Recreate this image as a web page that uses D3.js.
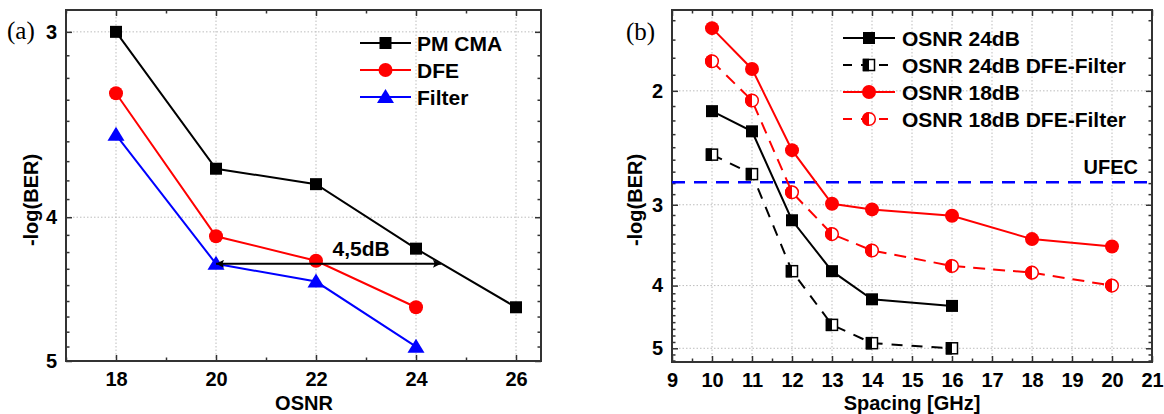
<!DOCTYPE html>
<html>
<head>
<meta charset="utf-8">
<script src="https://cdn.jsdelivr.net/npm/d3@7"></script>
<style>
    body { margin: 0; background: #fff; }
    svg { display: block; }
    text { font-family: "Liberation Sans", Arial, sans-serif; font-weight: bold; fill: #000; }
    .panel-tag { font-family: "Liberation Serif", "Times New Roman", serif; font-weight: normal; }
</style>
</head>
<body>
<script>
// panel (a): BER vs OSNR
const osnr = [18, 20, 22, 24, 26];
const pmCma = [3.0, 3.71, 3.80, 4.20, 4.60];
const dfe = [3.30, 4.12, 4.28, 4.60];
const filterVals = [3.52, 4.30, 4.42, 4.89];
const osnrTicks = [18, 20, 22, 24, 26];
const osnrMinor = [17, 19, 21, 23, 25];
const berTicksA = [3, 4, 5];
const arrowSpan = [20, 24.5];
const arrowLevel = 4.3;

// panel (b): BER vs spacing
const spacing24 = [10, 11, 12, 13, 14, 16];
const osnr24 = [2.15, 2.31, 3.17, 3.80, 4.20, 4.30];
const osnr24Dfe = [2.51, 2.69, 3.80, 4.60, 4.91, 5.00];
const spacing18 = [10, 11, 12, 13, 14, 16, 18, 20];
const osnr18 = [1.60, 1.85, 2.47, 2.99, 3.05, 3.12, 3.39, 3.48];
const osnr18Dfe = [1.80, 2.07, 2.87, 3.33, 3.53, 3.73, 3.82, 4.00];
const spacingTicks = d3.range(9, 22);
const spacingMinor = d3.range(9.5, 21, 1);
const berTicksB = [2, 3, 4, 5];
const ufec = 2.77;

const width = 1164, height = 414;
const svg = d3.select("body").append("svg").attr("width", width).attr("height", height);

// Origin style minor ticks: 8 between each pair of majors
function minorLog(lo, hi) {
    const out = [];
    for (let n = Math.floor(lo); n < hi; n++) {
        for (let k = 1; k < 9; k++) {
            const v = n + k / 9;
            if (v > lo && v < hi) out.push(v);
        }
    }
    return out;
}

function drawFrame(g, x, y, xMajor, xMinor, yMajor, yMinor) {
    const [x0, x1] = x.range();
    const [y0, y1] = y.range();

    // dotted grid
    g.append("g").selectAll("line").data(xMajor).join("line")
        .attr("x1", d => x(d)).attr("x2", d => x(d))
        .attr("y1", y0).attr("y2", y1)
        .attr("stroke", "#bdbdbd").attr("stroke-width", 1).attr("stroke-dasharray", "1.5,2");
    g.append("g").selectAll("line").data(yMajor).join("line")
        .attr("x1", x0).attr("x2", x1)
        .attr("y1", d => y(d)).attr("y2", d => y(d))
        .attr("stroke", "#bdbdbd").attr("stroke-width", 1).attr("stroke-dasharray", "1.5,2");

    const fmt = d3.format("d");
    const style = a => {
        a.select(".domain").remove();
        a.selectAll(".tick line").attr("stroke", "#333").attr("stroke-width", 1.5);
        a.selectAll("text").attr("font-size", 20);
    };

    g.append("g").attr("transform", `translate(0,${y1})`)
        .call(d3.axisBottom(x).tickValues(xMajor).tickSize(-6).tickPadding(11).tickFormat(fmt)).call(style);
    g.append("g").attr("transform", `translate(0,${y1})`)
        .call(d3.axisBottom(x).tickValues(xMinor).tickSize(-3.5).tickFormat("")).call(style);
    g.append("g").attr("transform", `translate(0,${y0})`)
        .call(d3.axisTop(x).tickValues(xMajor).tickSize(-6).tickFormat("")).call(style);
    g.append("g").attr("transform", `translate(0,${y0})`)
        .call(d3.axisTop(x).tickValues(xMinor).tickSize(-3.5).tickFormat("")).call(style);

    g.append("g").attr("transform", `translate(${x0},0)`)
        .call(d3.axisLeft(y).tickValues(yMajor).tickSize(-6).tickPadding(9).tickFormat(fmt)).call(style);
    g.append("g").attr("transform", `translate(${x0},0)`)
        .call(d3.axisLeft(y).tickValues(yMinor).tickSize(-3.5).tickFormat("")).call(style);
    g.append("g").attr("transform", `translate(${x1},0)`)
        .call(d3.axisRight(y).tickValues(yMajor).tickSize(-6).tickFormat("")).call(style);
    g.append("g").attr("transform", `translate(${x1},0)`)
        .call(d3.axisRight(y).tickValues(yMinor).tickSize(-3.5).tickFormat("")).call(style);

    g.append("rect")
        .attr("x", x0).attr("y", y0).attr("width", x1 - x0).attr("height", y1 - y0)
        .attr("fill", "none").attr("stroke", "#333").attr("stroke-width", 2);
}

// marker drawing
function marker(g, kind, cx, cy, color) {
    if (kind === "square") {
        g.append("rect").attr("x", cx - 6).attr("y", cy - 6).attr("width", 12).attr("height", 12).attr("fill", color);
    } else if (kind === "circle") {
        g.append("circle").attr("cx", cx).attr("cy", cy).attr("r", 7).attr("fill", color);
    } else if (kind === "triangle") {
        g.append("path").attr("d", `M${cx},${cy - 8}L${cx + 8.5},${cy + 6}L${cx - 8.5},${cy + 6}Z`).attr("fill", color);
    } else if (kind === "halfSquare") {
        g.append("rect").attr("x", cx - 5.5).attr("y", cy - 5.5).attr("width", 11).attr("height", 11)
            .attr("fill", "#fff").attr("stroke", color).attr("stroke-width", 1.5);
        g.append("rect").attr("x", cx - 6.25).attr("y", cy - 6.25).attr("width", 6.25).attr("height", 12.5).attr("fill", color);
    } else if (kind === "halfCircle") {
        g.append("circle").attr("cx", cx).attr("cy", cy).attr("r", 6.3)
            .attr("fill", "#fff").attr("stroke", color).attr("stroke-width", 1.5);
        g.append("path").attr("d", `M${cx},${cy - 7}A7,7 0 0 0 ${cx},${cy + 7}Z`).attr("fill", color);
    }
}

function series(g, x, y, xs, ys, color, kind, dash) {
    const pts = xs.map((d, i) => [x(d), y(ys[i])]);
    g.append("path")
        .attr("d", d3.line()(pts))
        .attr("fill", "none").attr("stroke", color).attr("stroke-width", 2)
        .attr("stroke-dasharray", dash || null);
    const m = g.append("g");
    pts.forEach(p => marker(m, kind, p[0], p[1], color));
}

function legend(g, items, lx0, lx1, tx, y0, dy, size) {
    items.forEach((it, i) => {
        const yy = y0 + i * dy;
        g.append("line").attr("x1", lx0).attr("x2", lx1).attr("y1", yy).attr("y2", yy)
            .attr("stroke", it.color).attr("stroke-width", 2).attr("stroke-dasharray", it.dash || null);
        marker(g, it.kind, (lx0 + lx1) / 2, yy, it.color);
        g.append("text").attr("x", tx).attr("y", yy).attr("dy", "0.36em")
            .attr("font-size", size).text(it.label);
    });
}

// ---------- panel (a)
const xa = d3.scaleLinear().domain([17, 26.5]).range([66, 541]);
const ya = d3.scaleLog().domain([2.9, 5]).range([10, 361]);
const ga = svg.append("g");
drawFrame(ga, xa, ya, osnrTicks, osnrMinor, berTicksA, minorLog(2.9, 5));

series(ga, xa, ya, osnr, pmCma, "#000", "square");
series(ga, xa, ya, osnr.slice(0, 4), dfe, "#ff0000", "circle");
series(ga, xa, ya, osnr.slice(0, 4), filterVals, "#0000ff", "triangle");

// 4,5dB arrow
const defs = svg.append("defs");
defs.append("marker").attr("id", "ah").attr("viewBox", "0 0 10 10")
    .attr("refX", 10).attr("refY", 5).attr("markerWidth", 6).attr("markerHeight", 4)
    .attr("markerUnits", "strokeWidth").attr("orient", "auto-start-reverse")
    .append("path").attr("d", "M0,0L10,5L0,10L2,5Z").attr("fill", "#000");
ga.append("line")
    .attr("x1", xa(arrowSpan[0])).attr("x2", xa(arrowSpan[1]))
    .attr("y1", ya(arrowLevel)).attr("y2", ya(arrowLevel))
    .attr("stroke", "#000").attr("stroke-width", 2)
    .attr("marker-start", "url(#ah)").attr("marker-end", "url(#ah)");
ga.append("text").attr("x", xa(22.33)).attr("y", ya(arrowLevel) - 8)
    .attr("font-size", 21).text("4,5dB");

legend(ga, [
    {label: "PM CMA", color: "#000", kind: "square"},
    {label: "DFE", color: "#ff0000", kind: "circle"},
    {label: "Filter", color: "#0000ff", kind: "triangle"}
], 360, 411, 417, 43, 27, 21);

ga.append("text").attr("class", "panel-tag").attr("x", 7).attr("y", 39).attr("font-size", 25).text("(a)");
ga.append("text").attr("x", 304).attr("y", 410).attr("text-anchor", "middle").attr("font-size", 20).text("OSNR");
ga.append("text").attr("transform", "translate(38,200) rotate(-90)").attr("text-anchor", "middle")
    .attr("font-size", 20).text("-log(BER)");

// ---------- panel (b)
const xb = d3.scaleLinear().domain([9, 21]).range([672, 1152]);
const yb = d3.scaleLog().domain([1.5, 5.25]).range([10, 362]);
const gb = svg.append("g");
drawFrame(gb, xb, yb, spacingTicks, spacingMinor, berTicksB, minorLog(1.5, 5.25));

gb.append("line")
    .attr("x1", xb(9)).attr("x2", xb(21)).attr("y1", yb(ufec)).attr("y2", yb(ufec))
    .attr("stroke", "#0000ff").attr("stroke-width", 2.5).attr("stroke-dasharray", "13,9");
gb.append("text").attr("x", xb(21) - 14).attr("y", yb(ufec) - 8).attr("text-anchor", "end")
    .attr("font-size", 20).text("UFEC");

series(gb, xb, yb, spacing24, osnr24Dfe, "#000", "halfSquare", "11,9");
series(gb, xb, yb, spacing18, osnr18Dfe, "#ff0000", "halfCircle", "12,8");
series(gb, xb, yb, spacing24, osnr24, "#000", "square");
series(gb, xb, yb, spacing18, osnr18, "#ff0000", "circle");

legend(gb, [
    {label: "OSNR 24dB", color: "#000", kind: "square"},
    {label: "OSNR 24dB DFE-Filter", color: "#000", kind: "halfSquare", dash: "9,9"},
    {label: "OSNR 18dB", color: "#ff0000", kind: "circle"},
    {label: "OSNR 18dB DFE-Filter", color: "#ff0000", kind: "halfCircle", dash: "9,9"}
], 843, 895, 902, 38, 27, 21);

gb.append("text").attr("class", "panel-tag").attr("x", 626).attr("y", 40).attr("font-size", 25).text("(b)");
gb.append("text").attr("x", 912).attr("y", 410).attr("text-anchor", "middle").attr("font-size", 20).text("Spacing [GHz]");
gb.append("text").attr("transform", "translate(642,200) rotate(-90)").attr("text-anchor", "middle")
    .attr("font-size", 20).text("-log(BER)");
</script>
</body>
</html>
